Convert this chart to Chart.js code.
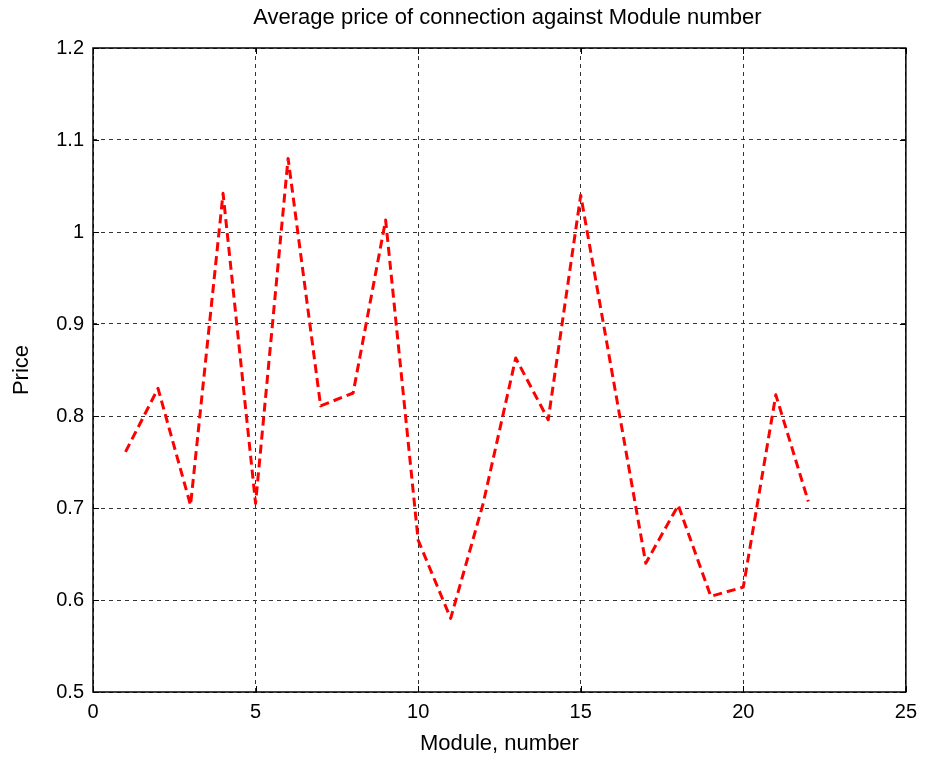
<!DOCTYPE html>
<html>
<head>
<meta charset="utf-8">
<script src="https://cdn.jsdelivr.net/npm/chart.js@4.4.1/dist/chart.umd.min.js"></script>
<style>
  body { margin: 0; background: #fff; }
  #wrap { width: 925px; height: 758px; }
</style>
</head>
<body>
<div id="wrap"><canvas id="myChart" width="925" height="758"></canvas></div>
<script>
const modules = [1, 2, 3, 4, 5, 6, 7, 8, 9, 10, 11, 12, 13, 14, 15, 16, 17, 18, 19, 20, 21, 22];
const prices = [0.761, 0.830, 0.703, 1.042, 0.705, 1.080, 0.811, 0.825, 1.013, 0.665, 0.580,
                0.705, 0.863, 0.796, 1.040, 0.840, 0.640, 0.703, 0.604, 0.614, 0.823, 0.707];
const xTicks = [0, 5, 10, 15, 20, 25];
const yTicks = [0.5, 0.6, 0.7, 0.8, 0.9, 1.0, 1.1, 1.2];
const chartTitle = 'Average price of connection against Module number';

const points = modules.map((m, i) => ({ x: m, y: prices[i] }));
const font = 'Arial, "Liberation Sans", sans-serif';

// box round the plot with inward ticks, and the title centred over the plot
const boxPlugin = {
    id: 'box',
    afterDraw(chart) {
        const { ctx, chartArea: a, scales } = chart;
        ctx.save();
        ctx.strokeStyle = '#000';
        ctx.lineWidth = 1;
        ctx.setLineDash([]);
        ctx.beginPath();
        xTicks.forEach(v => {
            const px = Math.round(scales.x.getPixelForValue(v)) + 0.5;
            ctx.moveTo(px, a.bottom); ctx.lineTo(px, a.bottom - 6);
            ctx.moveTo(px, a.top); ctx.lineTo(px, a.top + 6);
        });
        yTicks.forEach(v => {
            const py = Math.round(scales.y.getPixelForValue(v)) + 0.5;
            ctx.moveTo(a.left, py); ctx.lineTo(a.left + 6, py);
            ctx.moveTo(a.right, py); ctx.lineTo(a.right - 6, py);
        });
        ctx.stroke();
        ctx.lineWidth = 1.5;
        ctx.strokeRect(a.left, a.top, a.right - a.left, a.bottom - a.top);

        ctx.fillStyle = '#000';
        ctx.font = '22px ' + font;
        ctx.textAlign = 'center';
        ctx.textBaseline = 'middle';
        ctx.fillText(chartTitle, (a.left + a.right) / 2 + 8, 18);
        ctx.restore();
    }
};

const ctx = document.getElementById('myChart').getContext('2d');
const myChart = new Chart(ctx, {
    type: 'line',
    data: {
        datasets: [{
            data: points,
            borderColor: '#FF0000',
            borderWidth: 3,
            borderDash: [9, 5],
            borderJoinStyle: 'round',
            pointRadius: 0,
            tension: 0,
            fill: false
        }]
    },
    options: {
        responsive: false,
        animation: false,
        layout: { padding: { left: 0, right: 17, top: 48, bottom: 0 } },
        plugins: {
            legend: { display: false },
            tooltip: { enabled: false },
            title: { display: false }
        },
        scales: {
            x: {
                type: 'linear',
                min: 0,
                max: 25,
                afterBuildTicks: s => { s.ticks = xTicks.map(v => ({ value: v })); },
                afterFit: s => { s.height = 66; },
                ticks: {
                    color: '#000',
                    padding: 8,
                    maxRotation: 0,
                    font: { family: font, size: 20 }
                },
                grid: { color: '#333', lineWidth: 1, drawTicks: false },
                border: { display: false, dash: [4, 4] },
                title: {
                    display: true,
                    text: 'Module, number',
                    color: '#000',
                    font: { family: font, size: 22, lineHeight: 1.2 },
                    padding: { top: 0, bottom: 1 }
                }
            },
            y: {
                min: 0.5,
                max: 1.2,
                afterBuildTicks: s => { s.ticks = yTicks.map(v => ({ value: v })); },
                afterFit: s => { s.width = 93; },
                ticks: {
                    color: '#000',
                    padding: 9,
                    font: { family: font, size: 20 },
                    callback: v => parseFloat(v.toFixed(1)).toString()
                },
                grid: { color: '#333', lineWidth: 1, drawTicks: false },
                border: { display: false, dash: [4, 4] },
                title: {
                    display: true,
                    text: 'Price',
                    color: '#000',
                    font: { family: font, size: 22, lineHeight: 1.2 },
                    padding: { top: 9, bottom: 0 }
                }
            }
        }
    },
    plugins: [boxPlugin]
});
</script>
</body>
</html>
